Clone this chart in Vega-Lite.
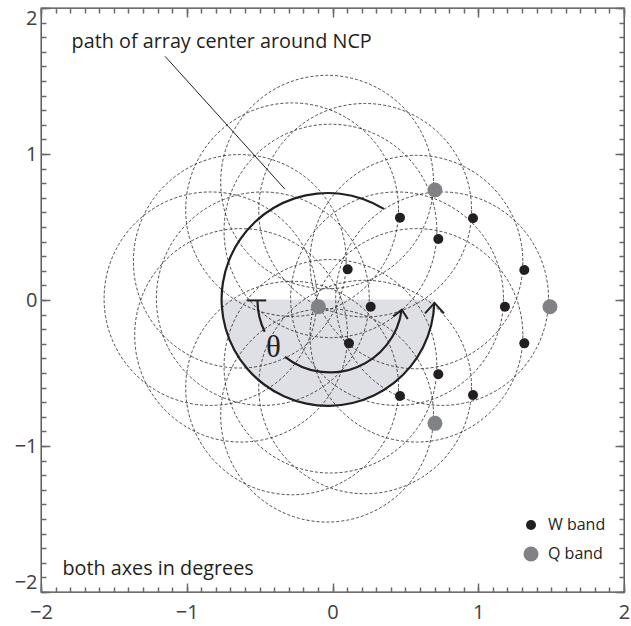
{
  "$schema": "https://vega.github.io/schema/vega-lite/v6.json",
  "width": 583,
  "height": 584,
  "autosize": "none",
  "padding": {"left": 41, "top": 8, "right": 7, "bottom": 34},
  "background": "white",
  "config": {"view": {"stroke": "#414042", "strokeWidth": 1.3}, "font": "Open Sans"},
  "resolve": {"scale": {"x": "independent", "y": "independent"}, "axis": {"x": "independent", "y": "independent"}},
  "datasets": {
    "detectors": [
      {"x": 0.703, "y": 0.753, "band": "Q band"},
      {"x": 0.463, "y": 0.564, "band": "W band"},
      {"x": 0.964, "y": 0.560, "band": "W band"},
      {"x": 0.726, "y": 0.418, "band": "W band"},
      {"x": 0.104, "y": 0.210, "band": "W band"},
      {"x": 1.316, "y": 0.205, "band": "W band"},
      {"x": -0.097, "y": -0.046, "band": "Q band"},
      {"x": 0.262, "y": -0.046, "band": "W band"},
      {"x": 1.183, "y": -0.046, "band": "W band"},
      {"x": 1.492, "y": -0.046, "band": "Q band"},
      {"x": 0.113, "y": -0.297, "band": "W band"},
      {"x": 1.316, "y": -0.297, "band": "W band"},
      {"x": 0.726, "y": -0.509, "band": "W band"},
      {"x": 0.463, "y": -0.658, "band": "W band"},
      {"x": 0.964, "y": -0.651, "band": "W band"},
      {"x": 0.703, "y": -0.845, "band": "Q band"}
    ],
    "paths": [
      {"cx": -0.037, "cy": 0.808}, {"cx": -0.277, "cy": 0.619}, {"cx": 0.224, "cy": 0.615},
      {"cx": -0.014, "cy": 0.473}, {"cx": -0.636, "cy": 0.265}, {"cx": 0.576, "cy": 0.260},
      {"cx": -0.837, "cy": 0.009}, {"cx": -0.478, "cy": 0.009}, {"cx": 0.443, "cy": 0.009},
      {"cx": 0.752, "cy": 0.009}, {"cx": -0.627, "cy": -0.242}, {"cx": 0.576, "cy": -0.242},
      {"cx": -0.014, "cy": -0.454}, {"cx": -0.277, "cy": -0.603}, {"cx": 0.224, "cy": -0.596},
      {"cx": -0.037, "cy": -0.790}
    ],
    "arcs": [
      {"part": "shade", "cx": -0.031, "cy": 0.004, "r": 0.73, "t1": 1.5708, "t2": 4.7124},
      {"part": "outer", "cx": -0.031, "cy": 0.004, "r": 0.73, "t1": 1.60, "t2": 6.836},
      {"part": "innerA", "cx": -0.018, "cy": 0.0, "r": 0.497, "t1": 4.26, "t2": 4.70},
      {"part": "innerB", "cx": -0.018, "cy": 0.0, "r": 0.497, "t1": 1.71, "t2": 3.81}
    ],
    "arrows": [
      {"kind": "outer", "x": 0.700, "y": -0.020},
      {"kind": "inner", "x": 0.476, "y": -0.066}
    ],
    "tbar": [{"x": -0.585, "x2": -0.455, "y": -0.003}],
    "pointer": [{"x": -1.149, "y": 1.669, "x2": -0.327, "y2": 0.760}],
    "greek": [{"x": -0.406, "y": -0.331, "text": "θ"}],
    "notes": [
      {"x": -1.79, "y": 1.729, "text": "path of array center around NCP"},
      {"x": -1.853, "y": -1.886, "text": "both axes in degrees"}
    ]
  },
  "layer": [
    {
      "data": {"name": "arcs"},
      "transform": [{"filter": "datum.part == 'shade'"}],
      "mark": {"type": "arc", "color": "#dfe0e6", "radius": {"expr": "datum.r * width / 4"}, "radius2": 0},
      "encoding": {
        "x": {"field": "cx", "type": "quantitative", "scale": {"domain": [-2, 2], "nice": false, "zero": false},
          "axis": {"orient": "top", "values": [-2, -1, 0, 1, 2], "labels": false, "domain": false, "grid": false, "title": null, "tickColor": "dimgray", "tickWidth": 1.5, "tickSize": -9}},
        "y": {"field": "cy", "type": "quantitative", "scale": {"domain": [-2, 2], "nice": false, "zero": false},
          "axis": {"orient": "right", "values": [-2, -1, 0, 1, 2], "labels": false, "domain": false, "grid": false, "title": null, "tickColor": "dimgray", "tickWidth": 1.5, "tickSize": -9}},
        "theta": {"field": "t1", "type": "quantitative", "scale": null, "stack": null},
        "theta2": {"field": "t2"}
      }
    },
    {
      "data": {"name": "paths"},
      "mark": {"type": "point", "shape": "circle", "filled": false, "opacity": 1, "color": "#231f20", "strokeWidth": 0.8, "strokeDash": [3, 2],
        "size": {"expr": "pow(2 * 0.73 * width / 4, 2)"}},
      "encoding": {
        "x": {"field": "cx", "type": "quantitative", "scale": {"domain": [-2, 2], "nice": false, "zero": false},
          "axis": {"orient": "bottom", "values": [-2, -1, 0, 1, 2], "format": "d", "ticks": false, "tickSize": 0, "domain": false, "grid": false, "title": null,
            "labelFont": "Open Sans", "labelFontSize": 20, "labelColor": "#414042", "labelPadding": 10, "labelFlush": false, "labelOverlap": false}},
        "y": {"field": "cy", "type": "quantitative", "scale": {"domain": [-2, 2], "nice": false, "zero": false},
          "axis": {"orient": "left", "values": [-2, -1, 0, 1, 2], "format": "d", "ticks": false, "tickSize": 0, "domain": false, "grid": false, "title": null,
            "labelFont": "Open Sans", "labelFontSize": 20, "labelColor": "#414042", "labelPadding": 4, "labelFlush": true, "labelOverlap": false}}
      }
    },
    {
      "data": {"name": "arcs"},
      "transform": [{"filter": "datum.part != 'shade'"}],
      "mark": {"type": "arc", "color": "#231f20",
        "radius": {"expr": "datum.r * width / 4 + 1.1"},
        "radius2": {"expr": "datum.r * width / 4 - 1.1"}},
      "encoding": {
        "x": {"field": "cx", "type": "quantitative", "scale": {"domain": [-2, 2], "nice": false, "zero": false},
          "axis": {"orient": "top", "tickCount": 40, "labels": false, "domain": false, "grid": false, "title": null, "tickColor": "dimgray", "tickWidth": 1.5, "tickSize": -5}},
        "y": {"field": "cy", "type": "quantitative", "scale": {"domain": [-2, 2], "nice": false, "zero": false},
          "axis": {"orient": "right", "tickCount": 40, "labels": false, "domain": false, "grid": false, "title": null, "tickColor": "dimgray", "tickWidth": 1.5, "tickSize": -5}},
        "theta": {"field": "t1", "type": "quantitative", "scale": null, "stack": null},
        "theta2": {"field": "t2"}
      }
    },
    {
      "data": {"name": "arrows"},
      "transform": [{"filter": "datum.kind == 'outer'"}],
      "mark": {"type": "point", "shape": "M-1,1.1L0,0L1,1.1", "filled": false, "opacity": 1, "color": "#231f20", "strokeWidth": 2, "size": 361, "angle": 0},
      "encoding": {
        "x": {"field": "x", "type": "quantitative", "scale": {"domain": [-2, 2], "nice": false, "zero": false}, "axis": null},
        "y": {"field": "y", "type": "quantitative", "scale": {"domain": [-2, 2], "nice": false, "zero": false}, "axis": null}
      }
    },
    {
      "data": {"name": "arrows"},
      "transform": [{"filter": "datum.kind == 'inner'"}],
      "mark": {"type": "point", "shape": "M-1,1.1L0,0L1,1.1", "filled": false, "opacity": 1, "color": "#231f20", "strokeWidth": 2, "size": 220, "angle": 10},
      "encoding": {
        "x": {"field": "x", "type": "quantitative", "scale": {"domain": [-2, 2], "nice": false, "zero": false}, "axis": null},
        "y": {"field": "y", "type": "quantitative", "scale": {"domain": [-2, 2], "nice": false, "zero": false}, "axis": null}
      }
    },
    {
      "data": {"name": "tbar"},
      "mark": {"type": "rule", "color": "#231f20", "strokeWidth": 2},
      "encoding": {
        "x": {"field": "x", "type": "quantitative", "scale": {"domain": [-2, 2], "nice": false, "zero": false},
          "axis": {"orient": "bottom", "values": [-2, -1, 0, 1, 2], "labels": false, "domain": false, "grid": false, "title": null, "tickColor": "dimgray", "tickWidth": 1.5, "tickSize": -9}},
        "x2": {"field": "x2"},
        "y": {"field": "y", "type": "quantitative", "scale": {"domain": [-2, 2], "nice": false, "zero": false},
          "axis": {"orient": "left", "values": [-2, -1, 0, 1, 2], "labels": false, "domain": false, "grid": false, "title": null, "tickColor": "dimgray", "tickWidth": 1.5, "tickSize": -9}}
      }
    },
    {
      "data": {"name": "pointer"},
      "mark": {"type": "rule", "color": "#231f20", "strokeWidth": 1},
      "encoding": {
        "x": {"field": "x", "type": "quantitative", "scale": {"domain": [-2, 2], "nice": false, "zero": false}, "axis": null},
        "x2": {"field": "x2"},
        "y": {"field": "y", "type": "quantitative", "scale": {"domain": [-2, 2], "nice": false, "zero": false}, "axis": null},
        "y2": {"field": "y2"}
      }
    },
    {
      "data": {"name": "greek"},
      "mark": {"type": "text", "font": "Liberation Serif", "fontSize": 31, "align": "center", "baseline": "middle", "color": "#231f20"},
      "encoding": {
        "x": {"field": "x", "type": "quantitative", "scale": {"domain": [-2, 2], "nice": false, "zero": false}, "axis": null},
        "y": {"field": "y", "type": "quantitative", "scale": {"domain": [-2, 2], "nice": false, "zero": false}, "axis": null},
        "text": {"field": "text"}
      }
    },
    {
      "data": {"name": "notes"},
      "mark": {"type": "text", "font": "Open Sans", "fontSize": 19.8, "align": "left", "baseline": "alphabetic", "color": "#231f20"},
      "encoding": {
        "x": {"field": "x", "type": "quantitative", "scale": {"domain": [-2, 2], "nice": false, "zero": false}, "axis": null},
        "y": {"field": "y", "type": "quantitative", "scale": {"domain": [-2, 2], "nice": false, "zero": false}, "axis": null},
        "text": {"field": "text"}
      }
    },
    {
      "data": {"name": "detectors"},
      "mark": {"type": "point", "shape": "circle", "filled": true, "opacity": 1, "strokeWidth": 0},
      "encoding": {
        "x": {"field": "x", "type": "quantitative", "scale": {"domain": [-2, 2], "nice": false, "zero": false},
          "axis": {"orient": "bottom", "tickCount": 40, "labels": false, "domain": false, "grid": false, "title": null, "tickColor": "dimgray", "tickWidth": 1.5, "tickSize": -5}},
        "y": {"field": "y", "type": "quantitative", "scale": {"domain": [-2, 2], "nice": false, "zero": false},
          "axis": {"orient": "left", "tickCount": 40, "labels": false, "domain": false, "grid": false, "title": null, "tickColor": "dimgray", "tickWidth": 1.5, "tickSize": -5}},
        "fill": {"field": "band", "type": "ordinal", "scale": {"domain": ["W band", "Q band"], "range": ["#231f20", "#808285"]},
          "legend": {"title": null, "orient": "none", "legendX": 482, "legendY": 509, "padding": 0, "labelFont": "Open Sans", "labelFontSize": 16, "labelColor": "#231f20", "rowPadding": 13, "labelOffset": 9, "symbolType": "circle", "symbolStrokeWidth": 0}},
        "size": {"field": "band", "type": "ordinal", "scale": {"domain": ["W band", "Q band"], "range": [100, 225]},
          "legend": {"title": null, "orient": "none", "legendX": 482, "legendY": 509, "padding": 0, "labelFont": "Open Sans", "labelFontSize": 16, "labelColor": "#231f20", "rowPadding": 13, "labelOffset": 9, "symbolType": "circle", "symbolStrokeWidth": 0}}
      }
    }
  ]
}
